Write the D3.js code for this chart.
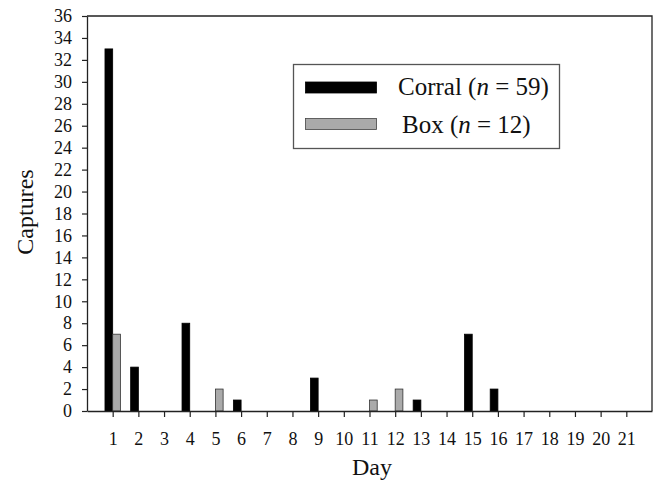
<!DOCTYPE html>
<html>
<head>
<meta charset="utf-8">
<script src="https://cdnjs.cloudflare.com/ajax/libs/d3/7.8.5/d3.min.js"></script>
<style>
  body { margin: 0; background: #fff; }
  svg text { font-family: "Liberation Serif", "Times New Roman", serif; fill: #111; }
</style>
</head>
<body>
<div id="chart"></div>
<script>
// data
var days = d3.range(1, 22);
var corralDays = [1, 2, 4, 6, 9, 13, 15, 16];
var corralValues = [33, 4, 8, 1, 3, 1, 7, 2];
var boxDays = [1, 5, 11, 12];
var boxValues = [7, 2, 1, 2];
var yTicks = d3.range(0, 37, 2);

var width = 655, height = 482;
var margin = { top: 16, right: 3, bottom: 71, left: 87 };

var svg = d3.select("#chart")
  .append("svg")
  .attr("width", width)
  .attr("height", height);

var x = d3.scaleLinear()
  .domain([0, 22])
  .range([margin.left, width - margin.right]);

var y = d3.scaleLinear()
  .domain([0, 36])
  .range([height - margin.bottom, margin.top]);

var barW = (x(1) - x(0)) * 0.3;

var corral = corralDays.map(function (d, i) { return { day: d, value: corralValues[i] }; });
var box = boxDays.map(function (d, i) { return { day: d, value: boxValues[i] }; });

// frame (top and right)
svg.append("path")
  .attr("d", "M" + x(0) + "," + y(36) + "H" + x(22) + "V" + y(0))
  .attr("fill", "none")
  .attr("stroke", "#222")
  .attr("stroke-width", 1.3);

// bars
svg.selectAll(".corral")
  .data(corral)
  .enter().append("rect")
  .attr("class", "corral")
  .attr("x", function (d) { return x(d.day) - barW; })
  .attr("width", barW)
  .attr("y", function (d) { return y(d.value); })
  .attr("height", function (d) { return y(0) - y(d.value); })
  .attr("fill", "#000")
  .attr("stroke", "#000")
  .attr("stroke-width", 0.8);

svg.selectAll(".box")
  .data(box)
  .enter().append("rect")
  .attr("class", "box")
  .attr("x", function (d) { return x(d.day); })
  .attr("width", barW)
  .attr("y", function (d) { return y(d.value); })
  .attr("height", function (d) { return y(0) - y(d.value); })
  .attr("fill", "#aaaaaa")
  .attr("stroke", "#333")
  .attr("stroke-width", 0.8);

// x axis
var xAxis = svg.append("g")
  .attr("transform", "translate(0," + y(0) + ")")
  .call(d3.axisBottom(x).tickValues(days).tickSize(6).tickPadding(15).tickSizeOuter(0));
xAxis.select(".domain").attr("stroke", "#222").attr("stroke-width", 1.3);
xAxis.selectAll(".tick line").attr("stroke", "#222").attr("stroke-width", 1.2);
xAxis.selectAll("text").attr("font-size", 18).attr("fill", "#111");

// y axis
var yAxis = svg.append("g")
  .attr("transform", "translate(" + x(0) + ",0)")
  .call(d3.axisLeft(y).tickValues(yTicks).tickSize(5).tickPadding(10).tickSizeOuter(0));
yAxis.select(".domain").attr("stroke", "#222").attr("stroke-width", 1.3);
yAxis.selectAll(".tick line").attr("stroke", "#222").attr("stroke-width", 1.2);
yAxis.selectAll("text").attr("font-size", 18).attr("fill", "#111");

// axis titles
svg.append("text")
  .attr("x", 372)
  .attr("y", 475)
  .attr("text-anchor", "middle")
  .attr("font-size", 24)
  .text("Day");

svg.append("text")
  .attr("transform", "translate(33,212) rotate(-90)")
  .attr("text-anchor", "middle")
  .attr("font-size", 24)
  .text("Captures");

// legend
var legend = svg.append("g");
legend.append("rect")
  .attr("x", 293.5).attr("y", 64.5)
  .attr("width", 266).attr("height", 84)
  .attr("fill", "#fff")
  .attr("stroke", "#555")
  .attr("stroke-width", 1.3);

var legendItems = [
  { name: "Corral", n: 59, fill: "#000", stroke: "#000", sy: 82, ty: 95, tx: 398 },
  { name: "Box", n: 12, fill: "#aaaaaa", stroke: "#444", sy: 118.5, ty: 133, tx: 402 }
];

legendItems.forEach(function (d) {
  legend.append("rect")
    .attr("x", 305.5).attr("y", d.sy)
    .attr("width", 71).attr("height", 11)
    .attr("fill", d.fill)
    .attr("stroke", d.stroke)
    .attr("stroke-width", 0.8);
  var t = legend.append("text")
    .attr("x", d.tx).attr("y", d.ty)
    .attr("font-size", 25);
  t.append("tspan").text(d.name + " (");
  t.append("tspan").attr("font-style", "italic").text("n");
  t.append("tspan").text(" = " + d.n + ")");
});
</script>
</body>
</html>
